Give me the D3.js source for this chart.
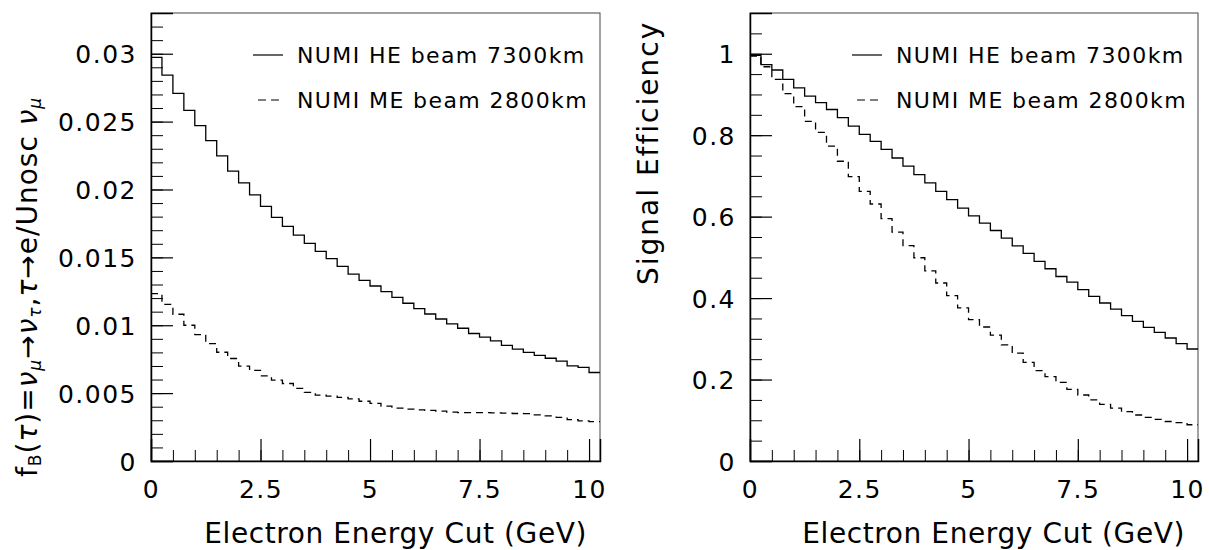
<!DOCTYPE html>
<html>
<head>
<meta charset="utf-8">
<script src="https://d3js.org/d3.v7.min.js"></script>
<style>
  body { margin: 0; background: #fff; }
  svg { display: block; }
  text { font-family: "DejaVu Sans", sans-serif; fill: #000; }
</style>
</head>
<body>
<script>
// bins of 0.25 GeV, 0 -> 10.25 GeV
const BIN_WIDTH = 0.25;
const N_BINS = 41;

// left panel: background fraction f_B(tau)
const bgHE = [0.02973, 0.02843, 0.02708, 0.02583, 0.02471, 0.02360, 0.02248, 0.02135, 0.02049, 0.01961,
  0.01875, 0.01794, 0.01728, 0.01664, 0.01603, 0.01544, 0.01490, 0.01434, 0.01377, 0.01331,
  0.01289, 0.01248, 0.01206, 0.01162, 0.01123, 0.01083, 0.01046, 0.01010, 0.00978, 0.00939,
  0.00912, 0.00885, 0.00851, 0.00824, 0.00800, 0.00778, 0.00757, 0.00735, 0.00701, 0.00689, 0.00652];
const bgME = [0.01233, 0.01154, 0.01081, 0.01000, 0.00931, 0.00865, 0.00801, 0.00755, 0.00699, 0.00667,
  0.00627, 0.00596, 0.00571, 0.00535, 0.00505, 0.00485, 0.00478, 0.00468, 0.00458, 0.00440,
  0.00425, 0.00404, 0.00390, 0.00382, 0.00377, 0.00373, 0.00368, 0.00360, 0.00357, 0.00357,
  0.00356, 0.00354, 0.00352, 0.00350, 0.00349, 0.00340, 0.00333, 0.00321, 0.00305, 0.00295, 0.00290];

// right panel: signal efficiency
const effHE = [0.996, 0.973, 0.960, 0.937, 0.916, 0.896, 0.880, 0.863, 0.843, 0.822,
  0.802, 0.785, 0.765, 0.744, 0.724, 0.703, 0.683, 0.662, 0.642, 0.621,
  0.602, 0.584, 0.566, 0.547, 0.528, 0.510, 0.490, 0.472, 0.453, 0.439,
  0.421, 0.404, 0.388, 0.373, 0.357, 0.343, 0.328, 0.316, 0.302, 0.288, 0.275];
const effME = [0.994, 0.968, 0.937, 0.902, 0.870, 0.834, 0.807, 0.773, 0.736, 0.698,
  0.662, 0.631, 0.595, 0.562, 0.529, 0.499, 0.467, 0.437, 0.406, 0.376,
  0.347, 0.329, 0.309, 0.285, 0.265, 0.242, 0.222, 0.207, 0.193, 0.176,
  0.162, 0.150, 0.139, 0.130, 0.121, 0.113, 0.107, 0.102, 0.097, 0.094, 0.089];

const legendLabels = ["NUMI HE beam 7300km", "NUMI ME beam 2800km"];
const xTicks = [0, 2.5, 5, 7.5, 10];
const leftYTicks = [0, 0.005, 0.01, 0.015, 0.02, 0.025, 0.03];
const rightYTicks = [0, 0.2, 0.4, 0.6, 0.8, 1];
const xTitle = "Electron Energy Cut (GeV)";

const W = 1209, H = 550;
const svg = d3.select("body").append("svg")
    .attr("width", W)
    .attr("height", H);

function histPoints(vals) {
  var pts = vals.map((v, i) => [i * BIN_WIDTH, v]);
  pts.push([N_BINS * BIN_WIDTH, vals[vals.length - 1]]);
  return pts;
}

function drawPanel(opts) {
  var x = d3.scaleLinear().domain([0, N_BINS * BIN_WIDTH]).range([opts.left, opts.right]);
  var y = d3.scaleLinear().domain([0, opts.yMax]).range([opts.bottom, opts.top]);
  var g = svg.append("g");

  // frame
  g.append("rect")
      .attr("x", opts.left).attr("y", opts.top)
      .attr("width", opts.right - opts.left).attr("height", opts.bottom - opts.top)
      .attr("fill", "none").attr("stroke", "#444").attr("stroke-width", 1);

  // minor ticks
  g.append("g")
      .attr("transform", "translate(0," + opts.bottom + ")")
      .call(d3.axisBottom(x).tickValues(d3.range(0, 10.01, 0.5)).tickSize(-11).tickFormat(""))
      .call(a => a.select(".domain").remove());
  g.append("g")
      .attr("transform", "translate(" + opts.left + ",0)")
      .call(d3.axisLeft(y).tickValues(d3.range(0, opts.yMax + 1e-9, opts.yMinor)).tickSize(-12).tickFormat(""))
      .call(a => a.select(".domain").remove());

  // major ticks + labels
  var xa = g.append("g")
      .attr("transform", "translate(0," + opts.bottom + ")")
      .call(d3.axisBottom(x).tickValues(xTicks).tickSize(-22).tickPadding(30).tickFormat(d3.format("")));
  var ya = g.append("g")
      .attr("transform", "translate(" + opts.left + ",0)")
      .call(d3.axisLeft(y).tickValues(opts.yTicks).tickSize(-22).tickPadding(14).tickFormat(d3.format("")));
  [xa, ya].forEach(a => {
    a.selectAll("line").attr("stroke", "#000").attr("stroke-width", 1.2);
    a.select(".domain").attr("stroke", "#000").attr("stroke-width", 1.5);
    a.selectAll("text").attr("font-size", 25).attr("letter-spacing", 1.5)
        .attr("font-family", "DejaVu Sans").attr("fill", "#000");
  });
  ya.selectAll("text").attr("dy", "0.36em");
  xa.selectAll("text").attr("dy", "0.72em").attr("y", 19);
  g.selectAll(".tick line").attr("stroke", "#000");

  // curves
  var line = d3.line()
      .x(d => x(d[0]))
      .y(d => y(d[1]))
      .curve(d3.curveStepAfter);
  g.append("path")
      .datum(histPoints(opts.he))
      .attr("d", line)
      .attr("fill", "none").attr("stroke", "#000").attr("stroke-width", 1.3);
  g.append("path")
      .datum(histPoints(opts.me))
      .attr("d", line)
      .attr("fill", "none").attr("stroke", "#000").attr("stroke-width", 1.3)
      .attr("stroke-dasharray", "7,5");

  // legend
  var lx = opts.left + 102;
  [55, 100].forEach((ly, i) => {
    g.append("line")
        .attr("x1", lx + (i ? 5 : 0)).attr("x2", lx + 30)
        .attr("y1", ly).attr("y2", ly)
        .attr("stroke", "#000").attr("stroke-width", 1.2)
        .attr("stroke-dasharray", i ? "8,5" : null);
    g.append("text")
        .attr("x", lx + 44).attr("y", ly + 8)
        .attr("font-size", 22).attr("letter-spacing", 1.4)
        .text(legendLabels[i]);
  });

  // x title
  g.append("text")
      .attr("x", opts.right - 13).attr("y", 543)
      .attr("text-anchor", "end")
      .attr("font-size", 28).attr("letter-spacing", 0.6)
      .text(xTitle);
  return g;
}

var leftG = drawPanel({left: 151, right: 600, top: 13, bottom: 461, yMax: 0.033,
  yTicks: leftYTicks, yMinor: 0.001, he: bgHE, me: bgME});
var rightG = drawPanel({left: 750, right: 1198, top: 13, bottom: 461, yMax: 1.1,
  yTicks: rightYTicks, yMinor: 0.05, he: effHE, me: effME});

// y titles
var lt = svg.append("text")
    .attr("transform", "translate(37,477) rotate(-90)")
    .attr("font-size", 28).attr("letter-spacing", 1);
// [text, subscript?, italic?]
[["f", 0, 0], ["B", 1, 0], ["(", 0, 0], ["τ", 0, 1], [")=", 0, 0], ["ν", 0, 1], ["μ", 1, 1],
 ["→", 0, 0], ["ν", 0, 1], ["τ", 1, 1], [",", 0, 0], ["τ", 0, 1], ["→e/Unosc ", 0, 0],
 ["ν", 0, 1], ["μ", 1, 1]]
  .forEach(p => {
    var t = lt.append("tspan").text(p[0]);
    if (p[1]) t.attr("font-size", 17).attr("baseline-shift", "-25%");
    if (p[2]) t.attr("font-style", "italic");
  });

svg.append("text")
    .attr("transform", "translate(658,285) rotate(-90)")
    .attr("font-size", 28).attr("letter-spacing", 2)
    .text("Signal Efficiency");
</script>
</body>
</html>
